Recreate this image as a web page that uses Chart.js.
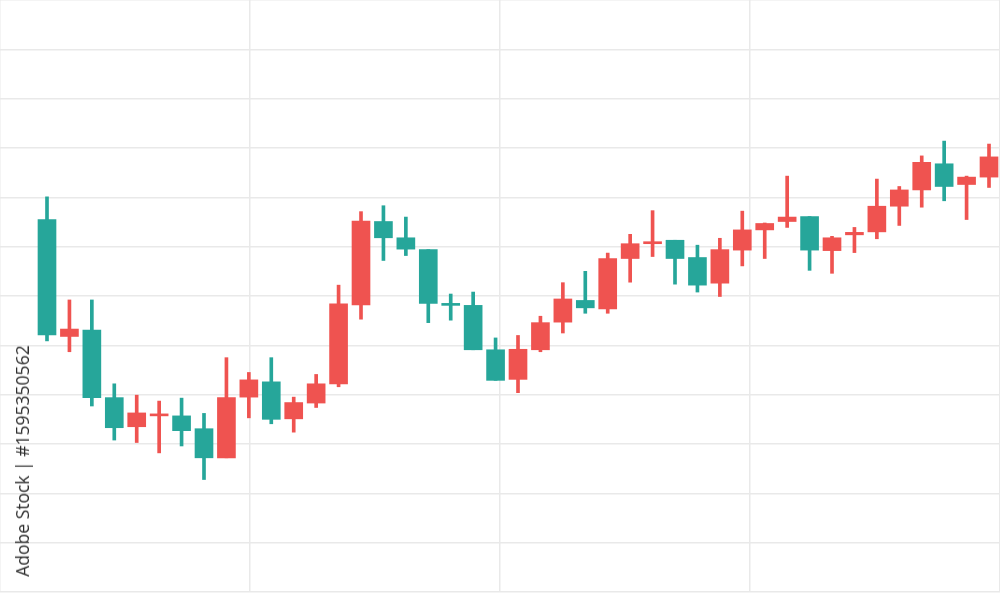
<!DOCTYPE html>
<html>
<head>
<meta charset="utf-8">
<script src="https://cdn.jsdelivr.net/npm/chart.js@4.4.1/dist/chart.umd.min.js"></script>
<style>
  html, body { margin: 0; padding: 0; background: #fff; }
  #wrap { position: relative; width: 1000px; height: 594px; overflow: hidden; }
  #stockId {
    position: absolute; left: 22px; top: 461px;
    transform: translate(-50%, -50%) rotate(-90deg);
    font-family: 'Open Sans', sans-serif; font-size: 17.5px; color: #2e2e2e;
    white-space: nowrap;
  }
</style>
</head>
<body>
<div id="wrap">
  <canvas id="candleChart" width="1000" height="594"></canvas>
  <div id="stockId">Adobe Stock | #1595350562</div>
</div>
<script>
  // OHLC values, one entry per candle
  const opens  = [75.5, 51.8, 53.1, 39.4, 33.5, 35.7, 35.7, 33.1, 27.2, 39.5, 42.6, 35.1, 38.3, 42.2, 58.2,
                  75.1, 71.8, 69.4, 58.2, 58.1, 49.1, 43.1, 49.1, 54.7, 59.1, 57.4, 67.6, 70.6, 71.3, 67.8,
                  62.6, 69.3, 73.4, 75.1, 76.1, 69.2, 72.4, 73.0, 78.2, 81.5, 86.8, 82.6, 84.1];
  const highs  = [80.1, 59.2, 59.2, 42.2, 39.9, 38.7, 39.3, 36.2, 47.5, 44.5, 47.5, 39.5, 44.1, 62.2, 77.1,
                  78.3, 76.0, 69.4, 60.4, 60.8, 51.5, 52.0, 55.9, 62.7, 65.0, 68.7, 72.5, 77.3, 71.3, 70.3,
                  71.7, 77.2, 74.8, 84.3, 76.1, 72.1, 73.9, 83.7, 82.2, 88.4, 91.4, 84.3, 90.8];
  const lows   = [50.9, 48.7, 37.7, 30.8, 30.3, 28.2, 29.6, 22.8, 27.2, 35.3, 34.1, 32.4, 37.4, 41.6, 55.3,
                  67.2, 68.2, 54.6, 55.1, 49.1, 42.9, 40.4, 48.7, 52.5, 56.5, 56.5, 62.8, 68.0, 62.4, 60.8,
                  59.9, 66.1, 67.6, 73.9, 65.2, 64.6, 68.8, 71.6, 74.3, 78.0, 79.3, 75.5, 82.0];
  const closes = [52.1, 53.3, 39.4, 33.3, 36.3, 35.8, 32.7, 27.2, 39.4, 43.0, 35.0, 38.4, 42.2, 58.4, 75.2,
                  71.8, 69.5, 58.5, 58.1, 49.1, 42.9, 49.2, 54.6, 59.4, 57.6, 67.6, 70.6, 70.7, 67.6, 62.2,
                  69.4, 73.4, 74.7, 76.0, 69.3, 71.8, 72.9, 78.2, 81.5, 87.1, 82.2, 84.1, 88.2];

  const upColor = '#ef5350';   // rising candles are red here
  const downColor = '#26a69a'; // falling candles are teal
  const gridColor = '#e9e9e9';

  const candleColors = opens.map((o, i) => closes[i] >= o ? upColor : downColor);

  function buildCandles() {
    const ctx = document.getElementById('candleChart').getContext('2d');
    new Chart(ctx, {
      type: 'bar',
      data: {
        datasets: [
          {
            // wicks: low..high
            data: opens.map((o, i) => ({ x: i + 1, y: [lows[i], highs[i]] })),
            backgroundColor: candleColors,
            barThickness: 3,
            grouped: false,
            order: 2
          },
          {
            // bodies: open..close
            data: opens.map((o, i) => ({ x: i + 1, y: [o, closes[i]] })),
            backgroundColor: candleColors,
            barThickness: 18,
            minBarLength: 2,
            grouped: false,
            order: 1
          }
        ]
      },
      options: {
        responsive: false,
        animation: false,
        layout: { padding: { top: 0, bottom: 2, left: 0, right: 0 } },
        plugins: {
          legend: { display: false },
          tooltip: { enabled: false }
        },
        scales: {
          x: {
            type: 'linear',
            min: -1.0955,
            max: 43.49,
            offset: false,
            border: { display: false },
            grid: { color: gridColor, lineWidth: 1.5, drawTicks: false, offset: false },
            ticks: { display: false },
            afterBuildTicks: scale => {
              // four equal columns across the plot
              const step = (scale.max - scale.min) / 4;
              scale.ticks = [0, 1, 2, 3, 4].map(k => ({ value: scale.min + k * step }));
            }
          },
          y: {
            min: 0,
            max: 120,
            border: { display: false },
            grid: { color: gridColor, lineWidth: 1.5, drawTicks: false },
            ticks: { display: false, stepSize: 10 }
          }
        }
      }
    });
  }

  buildCandles();
</script>
</body>
</html>
